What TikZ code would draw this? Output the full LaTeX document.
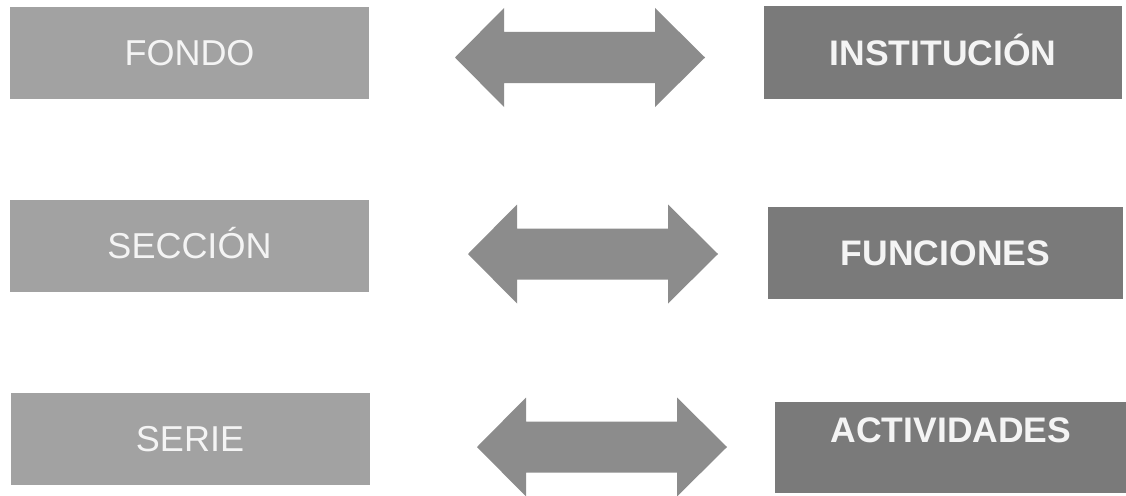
\documentclass[tikz,border=0pt]{standalone}
\usepackage{fontspec}
\setmainfont{Liberation Sans}
\begin{document}
\begin{tikzpicture}[x=1pt,y=-1pt,
  lbox/.style={fill=boxlight, draw=none, minimum width=359pt, minimum height=92pt, inner sep=0pt},
  rbox/.style={fill=boxdark, draw=none, minimum height=92pt, inner sep=0pt},
  txt/.style={text=textwhite, font=\fontsize{36}{40}\selectfont, text height=25pt, text depth=0pt},
  btxt/.style={text=textwhite, font=\fontsize{35.5}{40}\selectfont\bfseries, text height=25pt, text depth=0pt},
  dblarr/.style={fill=arrowgray, draw=none}]
\definecolor{boxlight}{RGB}{162,162,162}
\definecolor{boxdark}{RGB}{122,122,122}
\definecolor{arrowgray}{RGB}{140,140,140}
\definecolor{textwhite}{RGB}{244,244,244}
\useasboundingbox (0,0) rectangle (1126,495);
\fill[white] (0,0) rectangle (1126,495);
% left boxes
\node[lbox, txt] (fondo) at (189.5,53) {FONDO};
\node[lbox, txt] (seccion) at (189.5,245.5) {SECCIÓN};
\node[lbox, txt] (serie) at (190,439) {SERIE};
% right boxes
\node[rbox, btxt, minimum width=358pt] (inst) at (943,52.5) {INSTITUCIÓN};
\node[rbox, btxt, minimum width=355pt] (func) at (945.5,253) {FUNCIONES};
\node[rbox, minimum width=352pt, minimum height=91pt,
      label={[btxt, yshift=18pt]center:ACTIVIDADES}] (act) at (951,447.5) {};
% double arrows
\newcommand{\dblarrow}[3]{%
  \fill[dblarr] (#1,#3) -- ({#1+49},{#3-49.5}) -- ({#1+49},{#3-25.5}) --
    ({#2-50},{#3-25.5}) -- ({#2-50},{#3-49.5}) -- (#2,#3) --
    ({#2-50},{#3+49.5}) -- ({#2-50},{#3+25.5}) -- ({#1+49},{#3+25.5}) --
    ({#1+49},{#3+49.5}) -- cycle;}
\dblarrow{455}{705}{57.5}
\dblarrow{468}{718}{254}
\dblarrow{477}{727}{447}
\end{tikzpicture}
\end{document}
